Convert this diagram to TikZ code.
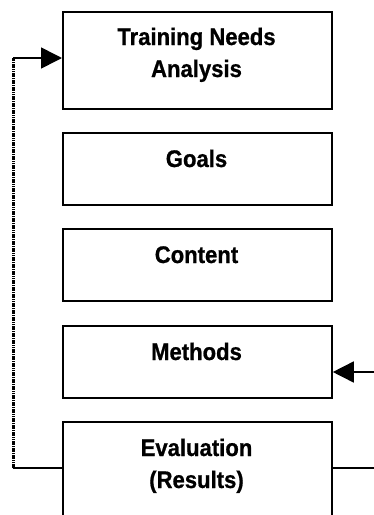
\documentclass[tikz,border=0pt]{standalone}
\usepackage{fontspec}
\setmainfont[FakeStretch=0.92, BoldFeatures={FakeBold=0.8}]{Liberation Sans}
\usetikzlibrary{arrows.meta}
\begin{document}
\begin{tikzpicture}[x=1pt,y=-1pt,
  stage/.style={draw, line width=1.8pt, minimum width=269pt, inner sep=0pt,
                anchor=north west},
  caption/.style={font=\fontsize{24}{32}\selectfont\bfseries, align=center,
                  anchor=base, inner sep=0pt},
  flow/.style={line width=1.6pt},
  loopline/.style={line width=3pt, dash pattern=on 1.6pt off 0.7pt},
  tip/.style={-{Triangle[length=21pt,width=21pt]}}]
  \useasboundingbox (0,0) rectangle (374,515);

  % stage boxes
  \node[stage, minimum height=97pt]  (tna) at (62,11)  {};
  \node[stage, minimum height=72pt]  (gl)  at (62,132) {};
  \node[stage, minimum height=72pt]  (ct)  at (62,228) {};
  \node[stage, minimum height=72pt]  (me)  at (62,325) {};
  \node[stage, minimum height=100pt] (ev)  at (62,421) {};

  % captions (base anchor sits on the last line)
  \node[caption] (tnaT) at (196.5,77)  {Training Needs\\Analysis};
  \node[caption] (glT)  at (196.5,167) {Goals};
  \node[caption] (ctT)  at (196.5,263) {Content};
  \node[caption] (meT)  at (196.5,360) {Methods};
  \node[caption] (evT)  at (196.5,488) {Evaluation\\(Results)};

  % feedback loop on the left
  \coordinate (lb) at (13,468);
  \coordinate (lt) at (13,58);
  \draw[flow] (ev.west |- lb) -- (lb);
  \draw[loopline] (lb) -- (lt);
  \draw[flow, tip] (lt) -- (tna.west |- lt);

  % connectors leaving on the right
  \coordinate (rin) at (374,372);
  \coordinate (rout) at (374,468);
  \draw[flow, tip] (rin) -- (me.east |- rin);
  \draw[flow] (ev.east |- rout) -- (rout);
\end{tikzpicture}
\end{document}
